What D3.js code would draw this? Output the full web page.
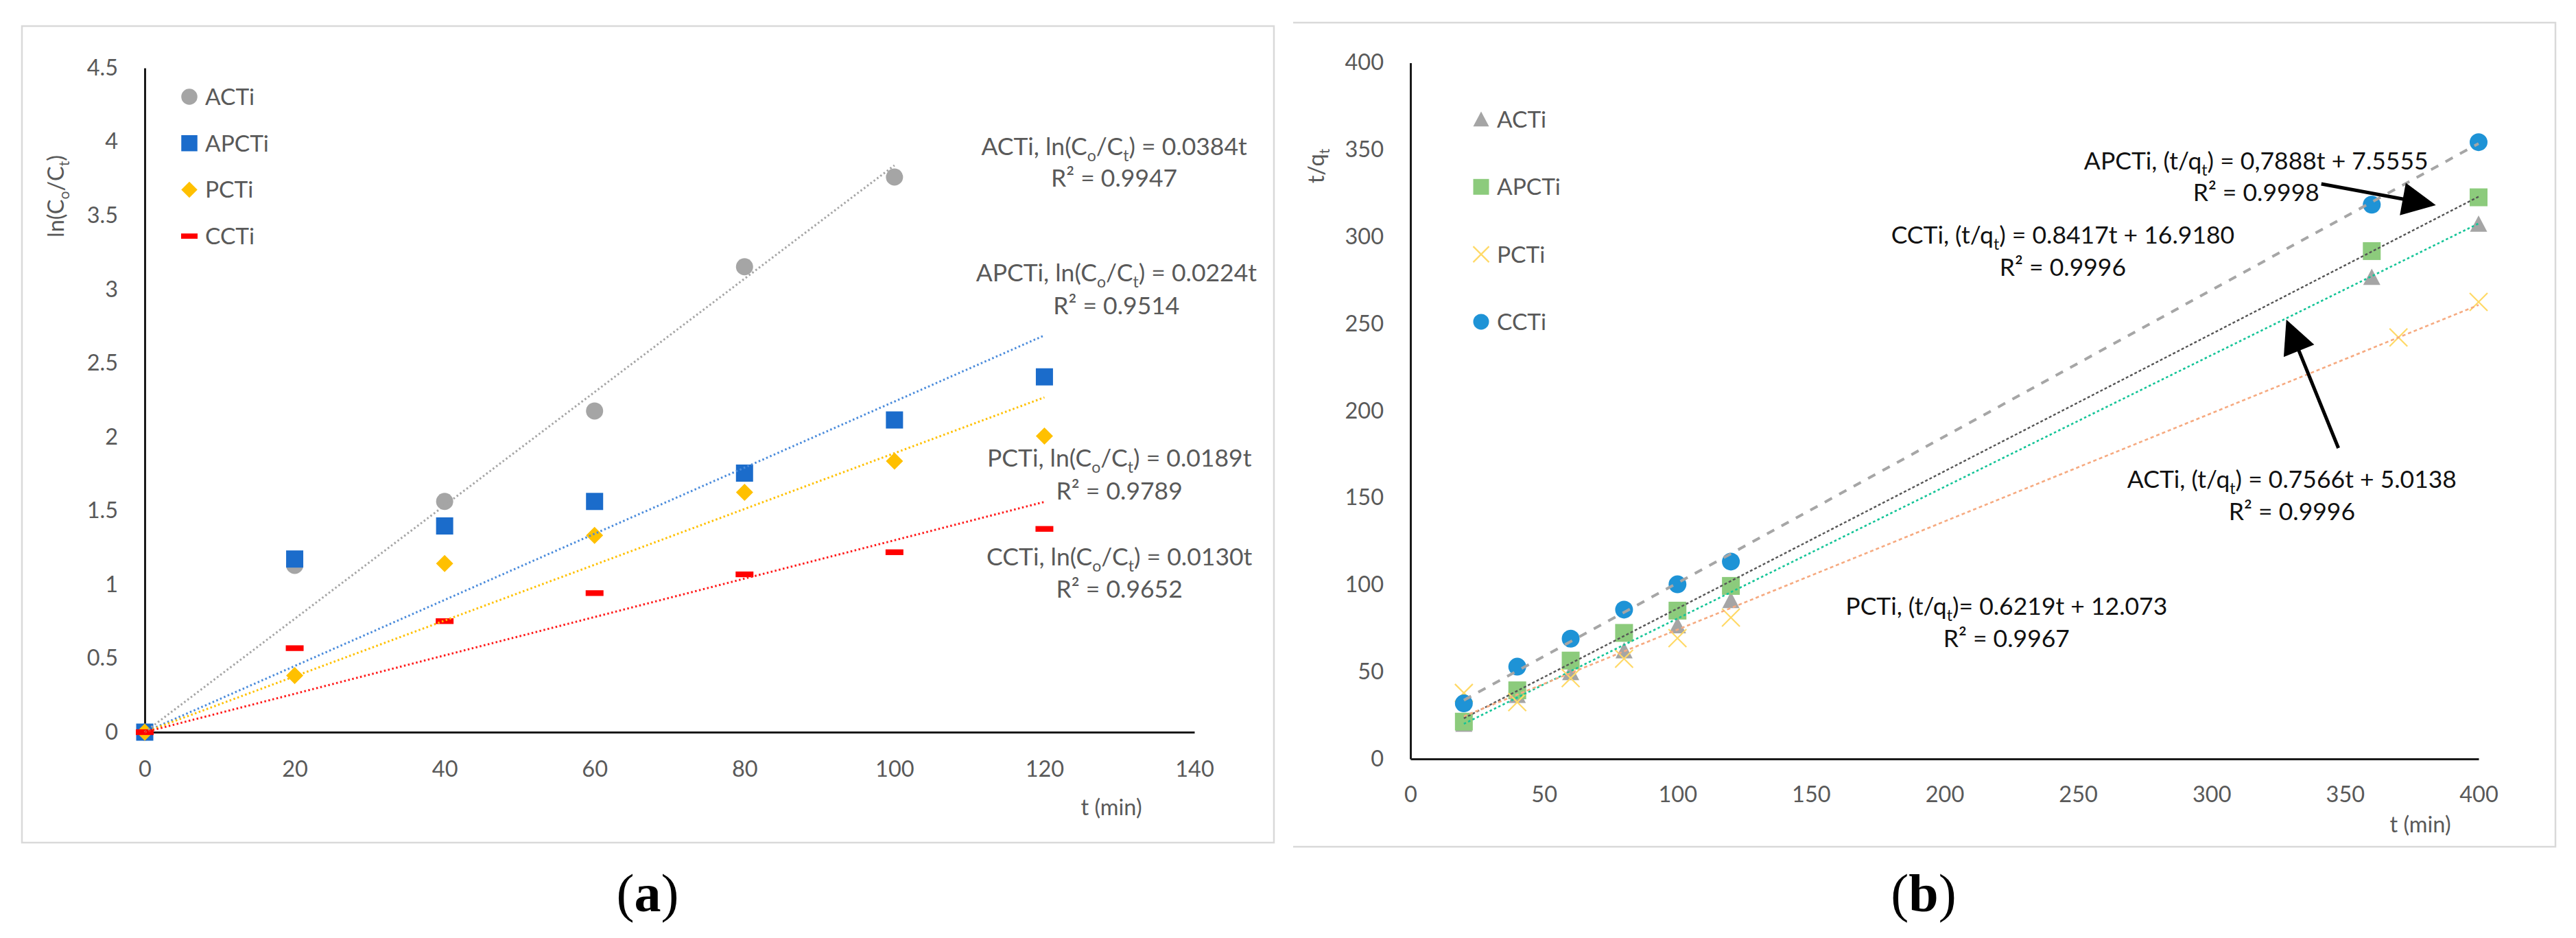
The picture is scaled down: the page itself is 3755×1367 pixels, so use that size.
<!DOCTYPE html>
<html><head><meta charset="utf-8">
<script src="https://cdn.jsdelivr.net/npm/d3@7"></script>
<style>
body{margin:0;background:#fff}
svg{display:block}
</style>
</head><body>
<svg id="c" width="3755" height="1367"></svg>
<script>
// ---------------- DATA ----------------
const seriesNames = ["ACTi", "APCTi", "PCTi", "CCTi"];

// Panel (a): first-order kinetics ln(Co/Ct) vs t
const tA = [0, 20, 40, 60, 80, 100, 120];
const aACTi  = [0, 1.13, 1.563, 2.176, 3.153, 3.761];
const aAPCTi = [0, 1.173, 1.397, 1.563, 1.755, 2.115, 2.407];
const aPCTi  = [0, 0.384, 1.142, 1.333, 1.625, 1.836, 2.006];
const aCCTi  = [0, 0.569, 0.752, 0.942, 1.069, 1.219, 1.377];
const aSlopes = [0.0384, 0.0224, 0.0189, 0.0130];
const aTrendEnd = [100, 120, 120, 120];
const aXTicks = [0, 20, 40, 60, 80, 100, 120, 140];
const aYTicks = [0, 0.5, 1, 1.5, 2, 2.5, 3, 3.5, 4, 4.5];
const aEqLines = [
  ["ACTi, ln(C_o/C_t) = 0.0384t", "R² = 0.9947"],
  ["APCTi, ln(C_o/C_t) = 0.0224t", "R² = 0.9514"],
  ["PCTi, ln(C_o/C_t) = 0.0189t", "R² = 0.9789"],
  ["CCTi, ln(C_o/C_t) = 0.0130t", "R² = 0.9652"]
];
const aEqPos = [[129.3, 3.910, 3.696], [129.6, 3.054, 2.831], [130.0, 1.799, 1.576], [130.0, 1.130, 0.911]];

// Panel (b): pseudo-second-order t/qt vs t
const tB = [20, 40, 60, 80, 100, 120, 360, 400];
const tBPCTi = [20, 40, 60, 80, 100, 120, 370, 400];
const bACTi  = [20, 36.6, 49.7, 62.2, 76.6, 91.1, 276.8, 307.3];
const bAPCTi = [21.4, 39.4, 56.5, 72.4, 85.2, 99.4, 291.8, 322.7];
const bPCTi  = [37.9, 32.6, 46.4, 57.6, 69.4, 81.2, 242.2, 262.6];
const bCCTi  = [31.9, 53.0, 69.1, 85.8, 100.3, 113.4, 318.5, 354.4];
const bSlopes = [0.7566, 0.7888, 0.6219, 0.8417];
const bIntercepts = [5.0138, 7.5555, 12.073, 16.9180];
const bTrendRange = [20, 400];
const bXTicks = [0, 50, 100, 150, 200, 250, 300, 350, 400];
const bYTicks = [0, 50, 100, 150, 200, 250, 300, 350, 400];
const bEqLines = [
  ["APCTi, (t/q_t) = 0,7888t + 7.5555", "R² = 0.9998"],
  ["CCTi, (t/q_t) = 0.8417t + 16.9180", "R² = 0.9996"],
  ["ACTi, (t/q_t) = 0.7566t + 5.0138", "R² = 0.9996"],
  ["PCTi, (t/q_t)= 0.6219t + 12.073", "R² = 0.9967"]
];
const bEqPos = [[316.7, 338.7, 320.6], [244.3, 296.1, 277.6], [330.1, 155.8, 137.2], [223.2, 82.8, 64.3]];
// arrows: [tail, tip] in data coordinates of panel b
const bArrows = [[[341.1, 330.4], [384.0, 318.2]], [[347.5, 178.6], [328.0, 252.4]]];

// ---------------- STYLE ----------------
const TXT = "#595959";
const SANS = "Lato, 'Noto Sans', sans-serif";
const aMarkers = ["circle", "square", "diamond", "dash"];
const aMarkerColors = ["#A5A5A5", "#1B6CCB", "#FFC000", "#FF0000"];
const aLineColors = ["#A5A5A5", "#4A8BDB", "#FFC000", "#FF1A1A"];
const bMarkers = ["triangle", "square", "x", "circle"];
const bMarkerColors = ["#A5A5A5", "#8CCB7C", "#FFD966", "#1E93D6"];
// per-series (ACTi, APCTi, PCTi, CCTi) trend styles in b
const bLineStyle = [
  {color: "#14C497", dash: "3.5 3.5", w: 2.6},
  {color: "#555555", dash: "4 3", w: 2.4},
  {color: "#F6AA80", dash: "5 4", w: 2.6},
  {color: "#A6A6A6", dash: "12 12", w: 4}
];

const svg = d3.select("#c").style("font-family", SANS);
svg.append("rect").attr("width", 3755).attr("height", 1367).attr("fill", "#fff");

// panel frames
svg.append("rect").attr("x", 32).attr("y", 38).attr("width", 1825).attr("height", 1190)
  .attr("fill", "none").attr("stroke", "#D9D9D9").attr("stroke-width", 2.5);
svg.append("path").attr("d", "M1885,33H3725V1234H1885")
  .attr("fill", "none").attr("stroke", "#D9D9D9").attr("stroke-width", 2.5);

function markerPath(type, s) {
  const h = s / 2;
  switch (type) {
    case "circle": return d3.symbol(d3.symbolCircle, Math.PI * h * h)();
    case "square": return `M${-h},${-h}h${s}v${s}h${-s}Z`;
    case "diamond": return `M0,${-h}L${h},0L0,${h}L${-h},0Z`;
    case "dash": return `M${-h},${-s * 0.16}h${s}v${s * 0.32}h${-s}Z`;
    case "triangle": return `M0,${-h}L${h},${h * 0.9}L${-h},${h * 0.9}Z`;
    case "x": return `M${-h},${-h}L${h},${h}M${h},${-h}L${-h},${h}`;
  }
}
function drawMarker(g, type, color, s) {
  const p = g.append("path").attr("d", markerPath(type, s));
  if (type === "x") p.attr("fill", "none").attr("stroke", color).attr("stroke-width", 2.2);
  else p.attr("fill", color);
  return p;
}
// rich text with "_x" subscripts
function rich(textSel, str, fs) {
  const parts = str.split(/(_.)/).filter(s => s.length);
  const sub = fs * 0.65, shift = fs * 0.25;
  let down = false;
  parts.forEach(p => {
    if (p[0] === "_") {
      textSel.append("tspan").attr("font-size", sub).attr("dy", down ? 0 : shift).text(p[1]);
      down = true;
    } else {
      const t = textSel.append("tspan").text(p);
      if (down) { t.attr("dy", -shift); down = false; }
    }
  });
  return textSel;
}

function styleAxis(g) {
  g.attr("font-family", null);
  g.select(".domain").attr("stroke", "#1A1A1A").attr("stroke-width", 3);
  g.selectAll("text").attr("fill", TXT).attr("font-size", 32.5);
}

// ================= PANEL A =================
const xA = d3.scaleLinear().domain([0, 140]).range([211, 1741]);
const yA = d3.scaleLinear().domain([0, 4.5]).range([1067, 99]);
const gA = svg.append("g");

gA.append("g").attr("transform", `translate(0,${yA(0)})`)
  .call(d3.axisBottom(xA).tickValues(aXTicks).tickSize(0).tickPadding(41.5).tickFormat(d3.format("d")))
  .call(styleAxis);
gA.append("g").attr("transform", `translate(${xA(0)},0)`)
  .call(d3.axisLeft(yA).tickValues(aYTicks).tickSize(0).tickPadding(39).tickFormat(d => String(d)))
  .call(styleAxis);

const aData = [aACTi, aAPCTi, aPCTi, aCCTi];
aData.forEach((vals, i) => {
  gA.append("g").selectAll("path").data(vals.map((v, j) => [tA[j], v])).join("path")
    .attr("d", markerPath(aMarkers[i], i === 3 ? 26 : 25))
    .attr("fill", aMarkerColors[i])
    .attr("transform", d => `translate(${xA(d[0])},${yA(d[1])})`);
});
const lineA = d3.line().x(d => xA(d[0])).y(d => yA(d[1]));
aSlopes.forEach((m, i) => {
  gA.append("path").datum([[0, 0], [aTrendEnd[i], m * aTrendEnd[i]]])
    .attr("d", lineA).attr("fill", "none").attr("stroke", aLineColors[i])
    .attr("stroke-width", 3).attr("stroke-dasharray", "2.5 3.5");
});
// legend a
seriesNames.forEach((n, i) => {
  const cy = 141 + i * 67.7;
  drawMarker(gA, aMarkers[i], aMarkerColors[i], i === 3 ? 24 : 23.5).attr("transform", `translate(276,${cy})`);
  gA.append("text").attr("x", 299).attr("y", cy + 12).attr("fill", TXT).attr("font-size", 33.5).text(n);
});
// equations a
aEqLines.forEach((ls, i) => {
  const p = aEqPos[i];
  ls.forEach((s, k) => {
    rich(gA.append("text").attr("x", xA(p[0])).attr("y", yA(p[k + 1]))
      .attr("text-anchor", "middle").attr("fill", TXT).attr("font-size", 35.5), s, 35.5);
  });
});
// axis titles a
gA.append("text").attr("x", 1620).attr("y", 1188).attr("text-anchor", "middle")
  .attr("fill", TXT).attr("font-size", 32.5).text("t (min)");
rich(gA.append("text").attr("transform", "translate(93,286) rotate(-90)")
  .attr("text-anchor", "middle").attr("fill", TXT).attr("font-size", 32.5), "ln(C_o/C_t)", 32.5);

// ================= PANEL B =================
const xB = d3.scaleLinear().domain([0, 400]).range([2056, 3613]);
const yB = d3.scaleLinear().domain([0, 400]).range([1106, 91.5]);
const gB = svg.append("g");
gB.append("g").attr("transform", `translate(0,${yB(0)})`)
  .call(d3.axisBottom(xB).tickValues(bXTicks).tickSize(0).tickPadding(39.5).tickFormat(d3.format("d")))
  .call(styleAxis);
gB.append("g").attr("transform", `translate(${xB(0)},0)`)
  .call(d3.axisLeft(yB).tickValues(bYTicks).tickSize(0).tickPadding(39).tickFormat(d3.format("d")))
  .call(styleAxis);

const bData = [[tB, bACTi], [tB, bAPCTi], [tBPCTi, bPCTi], [tB, bCCTi]];
bData.forEach(([ts, vals], i) => {
  const sel = gB.append("g").selectAll("path").data(vals.map((v, j) => [ts[j], v])).join("path")
    .attr("d", markerPath(bMarkers[i], i === 0 ? 25 : 26))
    .attr("transform", d => `translate(${xB(d[0])},${yB(d[1])})`);
  if (bMarkers[i] === "x") sel.attr("fill", "none").attr("stroke", bMarkerColors[i]).attr("stroke-width", 2.2);
  else sel.attr("fill", bMarkerColors[i]);
});
const lineB = d3.line().x(d => xB(d[0])).y(d => yB(d[1]));
[3, 1, 0, 2].forEach(i => {
  const st = bLineStyle[i];
  gB.append("path").datum(bTrendRange.map(t => [t, bSlopes[i] * t + bIntercepts[i]]))
    .attr("d", lineB).attr("fill", "none").attr("stroke", st.color)
    .attr("stroke-width", st.w).attr("stroke-dasharray", st.dash);
});
// legend b
seriesNames.forEach((n, i) => {
  const cy = 174 + i * 98.3;
  drawMarker(gB, bMarkers[i], bMarkerColors[i], 23).attr("transform", `translate(2159,${cy})`);
  gB.append("text").attr("x", 2182).attr("y", cy + 12).attr("fill", TXT).attr("font-size", 33.5).text(n);
});
// equations b
bEqLines.forEach((ls, i) => {
  const p = bEqPos[i];
  ls.forEach((s, k) => {
    rich(gB.append("text").attr("x", xB(p[0])).attr("y", yB(p[k + 1]))
      .attr("text-anchor", "middle").attr("fill", "#111").attr("font-size", 35.5), s, 35.5);
  });
});
// arrows
bArrows.forEach(([tail, tip]) => {
  const x0 = xB(tail[0]), y0 = yB(tail[1]), x1 = xB(tip[0]), y1 = yB(tip[1]);
  const dx = x1 - x0, dy = y1 - y0, L = Math.hypot(dx, dy);
  const ux = dx / L, uy = dy / L, hl = 49, hw = 24;
  const bx = x1 - ux * hl, by = y1 - uy * hl;
  gB.append("line").attr("x1", x0).attr("y1", y0).attr("x2", bx + ux * 4).attr("y2", by + uy * 4)
    .attr("stroke", "#000").attr("stroke-width", 5);
  gB.append("path").attr("d", `M${x1},${y1}L${bx - uy * hw},${by + ux * hw}L${bx + uy * hw},${by - ux * hw}Z`)
    .attr("fill", "#000");
});
// axis titles b
gB.append("text").attr("x", 3528).attr("y", 1213).attr("text-anchor", "middle")
  .attr("fill", TXT).attr("font-size", 32.5).text("t (min)");
rich(gB.append("text").attr("transform", "translate(1930,242) rotate(-90)")
  .attr("text-anchor", "middle").attr("fill", TXT).attr("font-size", 32.5), "t/q_t", 32.5);

// panel captions
[["a", 944], ["b", 2804]].forEach(([l, x]) => {
  const t = svg.append("text").attr("x", x).attr("y", 1328).attr("text-anchor", "middle")
    .style("font-family", "'Liberation Serif', 'DejaVu Serif', serif").attr("font-size", 78).attr("fill", "#000");
  t.append("tspan").text("(");
  t.append("tspan").attr("font-weight", "bold").text(l);
  t.append("tspan").text(")");
});
</script>
</body></html>
